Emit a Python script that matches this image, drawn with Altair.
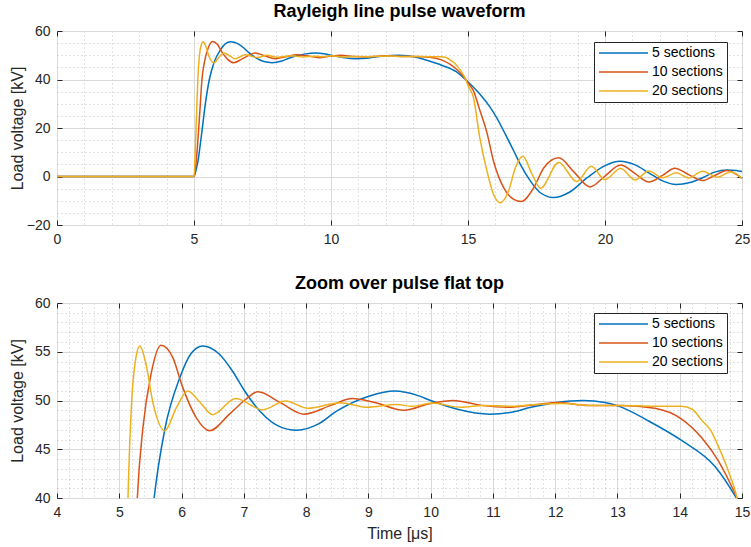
import altair as alt
import pandas as pd

# ---------------- data ----------------
series_names = ["5 sections", "10 sections", "20 sections"]
series_colors = ["#0072BD", "#D95319", "#EDB120"]

t_5 = [0, 5.0, 5.07, 5.14, 5.26, 5.44, 5.56, 5.73, 5.97, 6.15,
       6.34, 6.6, 6.83, 7.0, 7.26, 7.55, 7.85, 8.2, 8.49, 9.02,
       9.42, 9.8, 10.0, 10.43, 10.95, 11.3, 11.61, 12.03, 12.45, 12.8,
       13.03, 13.5, 14.03, 14.57, 14.9, 15.0, 15.43, 15.81, 16.06, 16.36,
       16.67, 16.91, 17.28, 17.64, 18.13, 18.7, 19.35, 20.0, 20.55, 21.1,
       21.6, 22.1, 22.6, 23.1, 23.6, 24.0, 24.45, 24.8, 25.0]
v_5 = [0, 0, 2.5, 6, 16, 32, 40, 47.0, 52.3, 54.8,
       55.6, 54.8, 52.9, 51.1, 48.9, 47.4, 46.95, 47.6, 48.9, 50.46,
       50.97, 50.5, 50.0, 49.1, 48.6, 48.8, 49.3, 49.8, 50.0, 49.8,
       49.4, 47.9, 45.9, 43.2, 40.1, 39.0, 34.0, 28.5, 24.0, 17.5,
       10.5, 5.0, -1.9, -6.7, -8.7, -6.5, -0.5, 4.5, 6.3, 4.8,
       1.5, -1.8, -3.3, -2.5, -0.3, 1.8, 2.7, 2.5, 2.0]

t_10 = [0, 5.0, 5.07, 5.14, 5.22, 5.29, 5.38, 5.51, 5.67, 5.86,
        6.01, 6.24, 6.45, 6.77, 7.0, 7.23, 7.58, 7.96, 8.4, 8.74,
        9.1, 9.57, 10.0, 10.36, 10.81, 11.24, 11.72, 12.04, 12.53, 13.06,
        13.6, 14.03, 14.35, 14.62, 14.84, 14.92, 15.0, 15.2, 15.43, 15.69,
        15.93, 16.3, 16.67, 16.95, 17.4, 17.77, 18.31, 18.88, 19.45, 20.0,
        20.57, 21.1, 21.6, 22.1, 22.55, 23.05, 23.56, 24.0, 24.45, 25.0]
v_10 = [0, 0, 5, 14.6, 28, 40, 47.2, 52.7, 55.66, 54.4,
        51.5, 48.2, 46.9, 48.6, 49.95, 50.9, 49.8, 48.6, 49.5, 50.2,
        49.8, 49.0, 49.7, 50.0, 49.5, 49.3, 49.6, 49.8, 49.5, 49.5,
        49.2, 48.1, 46.2, 43.8, 41.1, 40.0, 38.6, 35.3, 27.4, 18.1,
        6.4, -4.6, -9.4, -10.3, -4.6, 3.6, 7.7, 1.7, -4.3, 0.2,
        4.7, 1.2, -2.3, 0.5, 3.4, 0.8, -1.7, 0.4, 2.5, -0.8]

t_20 = [0, 5.0, 5.05, 5.1, 5.14, 5.2, 5.27, 5.33, 5.42, 5.55,
        5.73, 5.92, 6.1, 6.3, 6.5, 6.87, 7.3, 7.67, 8.03, 8.55,
        8.98, 9.46, 9.7, 10.02, 10.49, 10.85, 11.3, 11.7, 12.1, 12.6,
        13.06, 13.6, 14.03, 14.2, 14.35, 14.5, 14.62, 14.78, 14.92, 15.0,
        15.2, 15.43, 15.69, 15.93, 16.18, 16.48, 16.73, 17.0, 17.34, 17.65,
        18.31, 18.97, 19.5, 20.0, 20.57, 21.1, 21.6, 22.1, 22.6, 23.05,
        23.56, 24.1, 24.6, 25.0]
v_20 = [0, 0, 12, 28, 40, 50, 54.5, 55.6, 54.0, 49.5,
        46.9, 49.3, 50.97, 49.8, 48.55, 50.2, 49.05, 49.95, 49.2, 49.77,
        49.3, 49.6, 49.4, 49.75, 49.3, 49.5, 49.4, 49.6, 49.7, 49.5,
        49.5, 49.4, 49.4, 49.1, 48.0, 46.9, 45.3, 42.8, 40.0, 37.5,
        32.5, 16.0, 2.3, -7.3, -10.8, -6.0, 3.6, 8.3, 0.9, -4.8,
        5.8, -2.1, 4.2, -1.3, 3.3, -1.4, 2.3, -0.5, 1.5, -0.6,
        2.2, -0.3, 2.0, -0.8]

# axis tick values
top_x_major = [0, 5, 10, 15, 20, 25]
top_y_major = [-20, 0, 20, 40, 60]
bot_x_major = [4, 5, 6, 7, 8, 9, 10, 11, 12, 13, 14, 15]
bot_y_major = [40, 45, 50, 55, 60]
top_x_minor = [v for v in range(0, 26) if v % 5 != 0]
top_y_minor = [v for v in range(-20, 61, 5) if v % 20 != 0]
bot_x_minor = [round(4 + 0.2 * i, 1) for i in range(56) if i % 5 != 0]
bot_y_minor = [v for v in range(40, 61) if v % 5 != 0]

records = []
for name, ts, vs in zip(series_names, [t_5, t_10, t_20], [v_5, v_10, v_20]):
    for i, (t, v) in enumerate(zip(ts, vs)):
        records.append({"t": t, "v": v, "series": name, "idx": i})
data = pd.DataFrame(records)

FONT = "Liberation Sans"
AX = "#262626"


def panel(title, xdom, ydom, x_major, x_minor, y_major, y_minor, w, h, legend_y, x_title=""):
    xs = alt.Scale(domain=xdom, nice=False, zero=False)
    ys = alt.Scale(domain=ydom, nice=False, zero=False)
    base = alt.Chart(data)

    def hidden(xaxis, yaxis):
        return base.mark_line(strokeOpacity=0, clip=True).encode(
            x=alt.X("t:Q", scale=xs, axis=xaxis),
            y=alt.Y("v:Q", scale=ys, axis=yaxis),
            detail="series:N",
            order="idx:Q",
        )

    minor = hidden(
        alt.Axis(orient="bottom", values=x_minor, grid=True, gridColor="#c4c4c4",
                 gridDash=[1, 3], gridWidth=1, labels=False, ticks=False,
                 domain=False, title=None),
        alt.Axis(orient="left", values=y_minor, grid=True, gridColor="#c4c4c4",
                 gridDash=[1, 3], gridWidth=1, labels=False, ticks=False,
                 domain=False, title=None),
    )

    xkw = dict(orient="bottom", values=x_major, grid=True, gridColor="#d9d9d9",
               gridWidth=1, ticks=False, domain=False, labelFontSize=14,
               labelPadding=7, labelFlush=False, labelOverlap=False,
               labelColor=AX, labelFont=FONT)
    if x_title:
        xkw.update(title=x_title, titleFontSize=16, titlePadding=6, titleFont=FONT,
                   titleColor=AX, titleFontWeight="normal")
    else:
        xkw.update(title=None)
    ykw = dict(orient="left", values=y_major, grid=True, gridColor="#d9d9d9",
               gridWidth=1, ticks=False, domain=False, labelFontSize=14,
               labelPadding=7, labelFlush=False, labelOverlap=False,
               labelColor=AX, labelFont=FONT,
               title="Load voltage [kV]", titleFontSize=16, titleFont=FONT,
               titleColor=AX, titleFontWeight="normal", titleX=-40, titleY=h / 2,
               titleAngle=270, titleBaseline="middle", titleAlign="center")

    main = base.mark_line(clip=True, strokeWidth=1.5, interpolate="monotone").encode(
        x=alt.X("t:Q", scale=xs, axis=alt.Axis(**xkw)),
        y=alt.Y("v:Q", scale=ys, axis=alt.Axis(**ykw)),
        color=alt.Color(
            "series:N",
            scale=alt.Scale(domain=series_names, range=series_colors),
            legend=alt.Legend(
                title=None, orient="none", legendX=537, legendY=legend_y,
                direction="vertical", symbolType="stroke", symbolSize=2401,
                symbolStrokeWidth=1.5, clipHeight=14, rowPadding=5,
                labelFontSize=14, labelFont=FONT, labelColor="#000",
                labelOffset=3, padding=4, strokeColor=AX, fillColor="white",
            ),
        ),
        order="idx:Q",
    )

    tk = dict(tickSize=5, tickColor=AX, tickWidth=1, labels=False, grid=False,
              domain=False, title=None, offset=-5)
    ticks_a = hidden(alt.Axis(orient="top", values=x_major, **tk),
                     alt.Axis(orient="right", values=y_major, **tk))
    ticks_b = hidden(alt.Axis(orient="bottom", values=x_major, **tk),
                     alt.Axis(orient="left", values=y_major, **tk))

    return alt.layer(minor, main, ticks_a, ticks_b).resolve_axis(
        x="independent", y="independent"
    ).properties(
        width=w, height=h,
        title=alt.TitleParams(text=title, fontSize=18, fontWeight="bold", font=FONT,
                              color="#000", anchor="middle", frame="group", offset=3),
    )


top = panel("Rayleigh line pulse waveform", [0, 25], [-20, 60], top_x_major, top_x_minor,
            top_y_major, top_y_minor, 685, 194, 11)
bottom = panel("Zoom over pulse flat top", [4, 15], [40, 60], bot_x_major, bot_x_minor,
               bot_y_major, bot_y_minor, 685, 195, 10, x_title="Time [μs]")

chart = alt.vconcat(top, bottom, spacing=27).resolve_legend(
    color="independent"
).properties(
    padding={"left": 8, "top": 2, "right": 0, "bottom": 5},
    background="white",
).configure_view(stroke=AX, strokeWidth=1)

chart.save("out.html", embed_options={"renderer": "svg", "actions": False})
